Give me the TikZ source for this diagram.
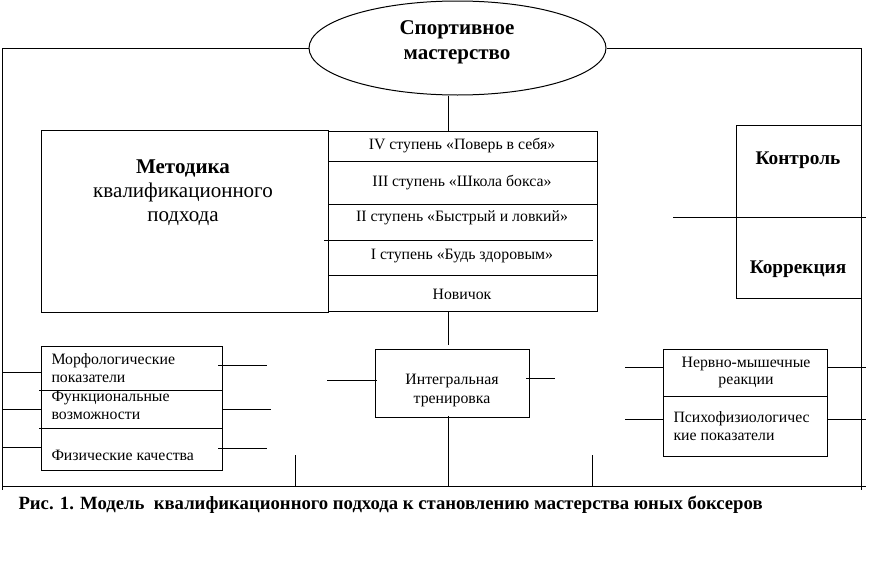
\documentclass[tikz,border=0pt]{standalone}
\usepackage{fontspec}
\setmainfont{Liberation Serif}
\usetikzlibrary{shapes.geometric}
\begin{document}
\begin{tikzpicture}[x=1pt,y=-1pt,line width=1pt,
  ell/.style={draw, ellipse, inner sep=0pt},
  rbox/.style={draw, rectangle, inner sep=0pt, anchor=north west},
  bigtxt/.style={font=\fontsize{21}{25}\selectfont, inner sep=0pt},
  bigbtxt/.style={font=\fontsize{21}{25}\selectfont\bfseries, inner sep=0pt},
  kktxt/.style={font=\fontsize{19.3}{22}\selectfont\bfseries, inner sep=0pt},
  smtxt/.style={font=\fontsize{15.8}{18}\selectfont, inner sep=0pt},
  smltxt/.style={font=\fontsize{15.8}{18}\selectfont, inner sep=0pt, anchor=west},
  captxt/.style={font=\fontsize{18.7}{20}\selectfont\bfseries, inner sep=0pt, anchor=west}]
\useasboundingbox (0,0) rectangle (874,570);
\coordinate (axis) at (448,0);
% top ellipse
\node[ell, minimum width=297, minimum height=94] (sp) at (457.5,48) {};
\node[bigbtxt] at (457,30) {Спортивное};
\node[bigbtxt] at (457,57) {мастерство};
% method box
\node[rbox, minimum width=287, minimum height=182] (met) at (41,130) {};
\node[bigbtxt] at (183,168) {Методика};
\node[bigtxt] at (183,192) {квалификационного};
\node[bigtxt] at (183,219) {подхода};
% ladder
\node[rbox, minimum width=269, minimum height=180] (lad) at (328,131) {};
\draw (328,161) -- (597,161);
\draw (328,204) -- (597,204);
\draw (324,240) -- (593,240);
\draw (328,275) -- (597,275);
\node[smtxt] at (462,146) {IV ступень «Поверь в себя»};
\node[smtxt] at (462,183) {III ступень «Школа бокса»};
\node[smtxt] at (462,218) {II ступень «Быстрый и ловкий»};
\node[smtxt] at (462,256) {I ступень «Будь здоровым»};
\node[smtxt] at (462,294) {Новичок};
% control box
\node[rbox, minimum width=125, minimum height=173] (ctl) at (736,125) {};
\node[kktxt] at (798,160) {Контроль};
\node[kktxt] at (798,269) {Коррекция};
\coordinate (divl) at (673,217);
\coordinate (divr) at (866,217);
\draw (divl) -- (divr);
% integral box
\node[rbox, minimum width=154, minimum height=68] (int) at (375,349) {};
\node[smtxt] at (452,381) {Интегральная};
\node[smtxt] at (452,401) {тренировка};
% left boxes
\node[rbox, minimum width=181, minimum height=124] (lb) at (41,346) {};
\draw (39,390) -- (lb.east |- 0,390);
\draw (39,428) -- (lb.east |- 0,428);
\node[smltxt] at (51,361) {Морфологические};
\node[smltxt] at (51,379) {показатели};
\node[smltxt] at (51,398) {Функциональные};
\node[smltxt] at (51,416) {возможности};
\node[smltxt] at (51,455) {Физические качества};
% right boxes
\node[rbox, minimum width=164, minimum height=107] (rb) at (663,349) {};
\draw (rb.west |- 0,396) -- (rb.east |- 0,396);
\node[smtxt] at (746,364) {Нервно-мышечные};
\node[smtxt] at (746,382) {реакции};
\node[smltxt] at (673,419) {Психофизиологичес};
\node[smltxt] at (673,437) {кие показатели};
% frame
\coordinate (tl) at (2,48);
\coordinate (tr) at (861,48);
\coordinate (bl) at (2,490);
\coordinate (br) at (861,490);
\coordinate (bbl) at (2,486);
\coordinate (bbr) at (866,486);
\draw (sp.west) -- (tl) -- (bl);
\draw (sp.east) -- (tr) -- (br);
\draw (bbl) -- (bbr);
% axis connectors
\draw (sp.south -| axis) -- (lad.north -| axis);
\draw (lad.south -| axis) -- ([yshift=4]int.north -| axis);
\draw ([yshift=2]int.south -| axis) -- (bbl -| axis);
% left stubs
\draw (tl |- 0,372) -- (lb.west |- 0,372);
\draw (tl |- 0,409) -- (lb.west |- 0,409);
\draw (tl |- 0,447) -- (lb.west |- 0,447);
\coordinate (s1) at (267,365);
\coordinate (s2) at (271,409);
\coordinate (s3) at (267,448);
\draw (218,365) -- (s1);
\draw (lb.east |- s2) -- (s2);
\draw (218,448) -- (s3);
% integral stubs
\coordinate (i1) at (327,380);
\coordinate (i2) at (555,378);
\draw (i1) -- ([xshift=2]int.west |- i1);
\draw ([xshift=-4]int.east |- i2) -- (i2);
% short verticals
\coordinate (v1) at (295,455);
\coordinate (v2) at (592,455);
\draw (v1) -- (v1 |- bbl);
\draw (v2) -- (v2 |- bbl);
% right box stubs
\coordinate (r1) at (625,367);
\coordinate (r2) at (625,419);
\draw (r1) -- (rb.west |- r1);
\draw (r2) -- (rb.west |- r2);
\draw (rb.east |- r1) -- (866,367);
\draw (rb.east |- r2) -- (866,419);
% caption
\node[captxt] at (18,505) {Рис. 1. Модель \ квалификационного подхода к становлению мастерства юных боксеров};
\end{tikzpicture}
\end{document}
